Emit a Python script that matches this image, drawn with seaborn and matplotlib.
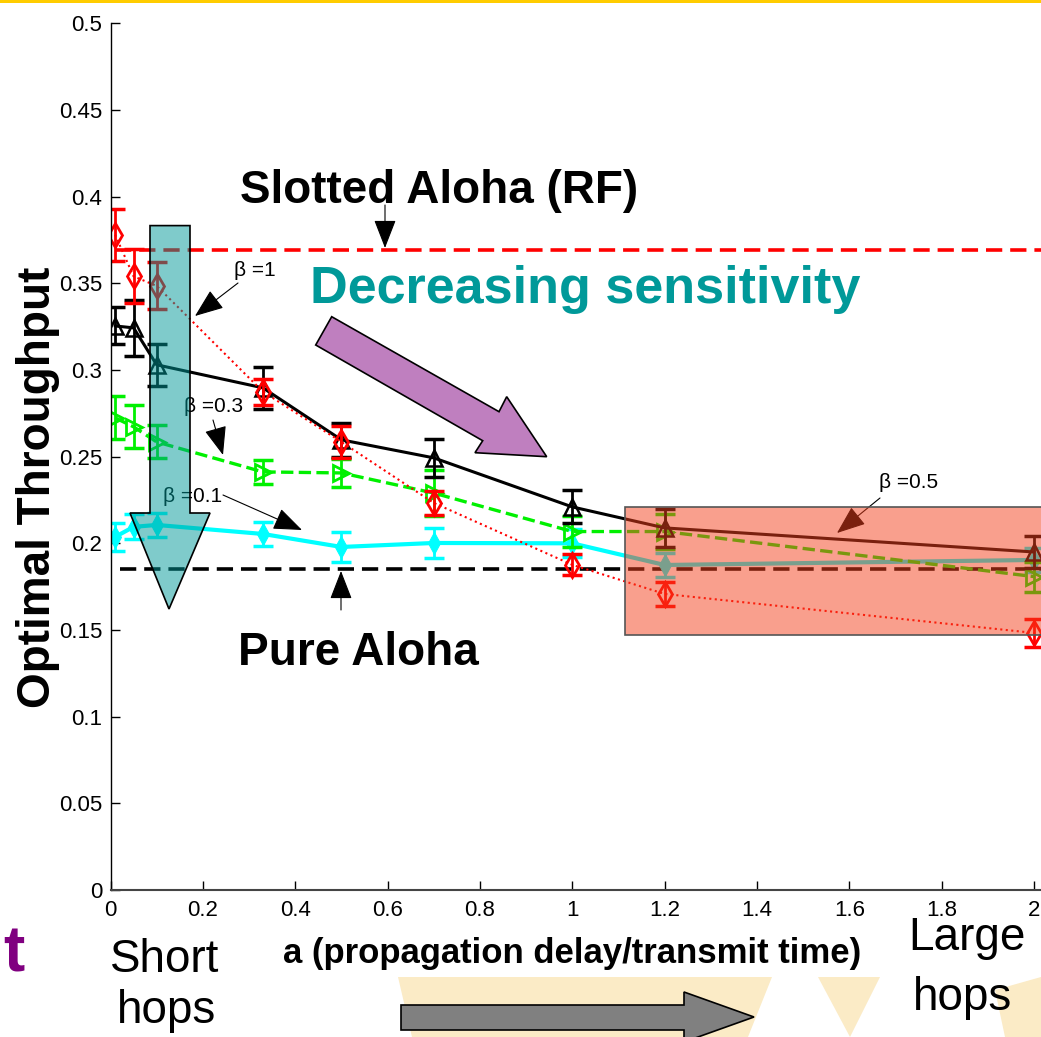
import matplotlib
matplotlib.use('Agg')
import matplotlib.pyplot as plt
from matplotlib.patches import Polygon, Rectangle
import seaborn as sns

# data
a_vals = [0.01, 0.05, 0.1, 0.33, 0.5, 0.7, 1.0, 1.2, 2.0]

thr_b1 = [0.378, 0.354, 0.3485, 0.2875, 0.2585, 0.2233, 0.1876, 0.1708, 0.1483]
err_b1 = [0.015, 0.0156, 0.0136, 0.0075, 0.009, 0.007, 0.006, 0.007, 0.008]

thr_b05 = [0.3254, 0.3243, 0.303, 0.2897, 0.2597, 0.2493, 0.221, 0.2089, 0.195]
err_b05 = [0.0107, 0.016, 0.012, 0.012, 0.010, 0.011, 0.0095, 0.011, 0.0095]

thr_b03 = [0.2724, 0.2672, 0.2585, 0.2412, 0.2406, 0.229, 0.2068, 0.2068, 0.1808]
err_b03 = [0.0124, 0.0124, 0.0095, 0.007, 0.008, 0.0135, 0.009, 0.010, 0.0087]

thr_b01 = [0.2037, 0.2095, 0.2106, 0.2054, 0.1979, 0.2002, 0.2, 0.1875, 0.1904]
err_b01 = [0.008, 0.0072, 0.007, 0.007, 0.0087, 0.0084, 0.008, 0.007, 0.007]

slotted_aloha = 0.369
pure_aloha = 0.185

x_ticks = [0, 0.2, 0.4, 0.6, 0.8, 1.0, 1.2, 1.4, 1.6, 1.8, 2.0]
x_tick_labels = ['0', '0.2', '0.4', '0.6', '0.8', '1', '1.2', '1.4', '1.6', '1.8', '2']
y_ticks = [0, 0.05, 0.1, 0.15, 0.2, 0.25, 0.3, 0.35, 0.4, 0.45, 0.5]
y_tick_labels = ['0', '0.05', '0.1', '0.15', '0.2', '0.25', '0.3', '0.35', '0.4', '0.45', '0.5']

sns.set_style('ticks')
plt.rcParams['font.family'] = ['Liberation Sans Narrow', 'DejaVu Sans Condensed', 'Liberation Sans', 'DejaVu Sans']
plt.rcParams['text.color'] = 'black'
plt.rcParams['axes.labelcolor'] = 'black'

W, H = 1041, 1037
fig = plt.figure(figsize=(W / 100, H / 100), dpi=100)


def fp(x, y):
    # pixel position on the slide -> figure fraction
    return (x / W, 1 - y / H)


ax_l, ax_r, ax_b, ax_t = 110.5, 1041, 890, 23.3
ax = fig.add_axes([ax_l / W, 1 - ax_b / H, (ax_r - ax_l) / W, (ax_b - ax_t) / H])
ax.set_xlim(0, 2.015)
ax.set_ylim(0, 0.5)

# reference lines
ax.hlines(slotted_aloha, 0.01, 2.015, colors='#FF0000', linestyles=(0, (4.5, 2.2)), lw=2.6, zorder=1.5)
ax.hlines(pure_aloha, 0.02, 2.015, colors='black', linestyles=(0, (4.5, 2.2)), lw=2.6, zorder=1.5)

# cyan beta=0.1
sns.lineplot(x=a_vals, y=thr_b01, ax=ax, color='#00FFFF', lw=3, marker='d', markersize=11,
             markerfacecolor='#00FFFF', markeredgecolor='#00FFFF', errorbar=None, zorder=2)
ax.errorbar(a_vals, thr_b01, yerr=err_b01, fmt='none', ecolor='#00FFFF', elinewidth=2,
            capsize=7, capthick=2.5, zorder=2)
# green beta=0.3
sns.lineplot(x=a_vals, y=thr_b03, ax=ax, color='#00F000', lw=2.4, linestyle='--', marker='>',
             markersize=11, markerfacecolor='none', markeredgecolor='#00F000', markeredgewidth=2,
             errorbar=None, zorder=2.1)
ax.errorbar(a_vals, thr_b03, yerr=err_b03, fmt='none', ecolor='#00F000', elinewidth=2,
            capsize=7, capthick=2.5, zorder=2.1)
# black beta=0.5
sns.lineplot(x=a_vals, y=thr_b05, ax=ax, color='black', lw=2.2, marker='^', markersize=11,
             markerfacecolor='none', markeredgecolor='black', markeredgewidth=1.8,
             errorbar=None, zorder=2.2)
ax.errorbar(a_vals, thr_b05, yerr=err_b05, fmt='none', ecolor='black', elinewidth=2,
            capsize=7, capthick=2.5, zorder=2.2)
# red beta=1
sns.lineplot(x=a_vals, y=thr_b1, ax=ax, color='#FF0000', lw=1.5, linestyle=':', marker='d',
             markersize=12, markerfacecolor='none', markeredgecolor='#FF0000', markeredgewidth=2,
             errorbar=None, zorder=2.3)
ax.errorbar(a_vals, thr_b1, yerr=err_b1, fmt='none', ecolor='#FF0000', elinewidth=2,
            capsize=7, capthick=2.5, zorder=2.3)

ax.set_xticks(x_ticks)
ax.set_xticklabels(x_tick_labels)
ax.set_yticks(y_ticks)
ax.set_yticklabels(y_tick_labels)
ax.tick_params(direction='in', length=6.5, width=1, labelsize=16, colors='black')
ax.tick_params(axis='x', pad=7)
ax.tick_params(axis='y', pad=6)
for s in ['top', 'right']:
    ax.spines[s].set_visible(False)
ax.spines['left'].set_color('black')
ax.spines['left'].set_linewidth(1)
ax.spines['bottom'].set_color('#444444')
ax.spines['bottom'].set_linewidth(1.5)

ax.set_xlabel('a (propagation delay/transmit time)', fontsize=25, fontweight='bold')
ax.xaxis.set_label_coords((572 - ax_l) / (ax_r - ax_l), -(937 - ax_b) / (ax_b - ax_t))
ax.set_ylabel('Optimal Throughput', fontsize=33, fontweight='bold',
              family=['Liberation Sans', 'DejaVu Sans'])
ax.yaxis.set_label_coords((60 - ax_l) / (ax_r - ax_l), (ax_b - 487) / (ax_b - ax_t))

# beta labels with small arrows
beta_font = dict(fontsize=15, family=['Liberation Sans', 'DejaVu Sans'], ha='center', va='center',
                 xycoords='figure fraction', zorder=3)
ax.annotate('\u03b2 =1', xy=fp(255, 271), **beta_font)
ax.annotate('\u03b2 =0.3', xy=fp(214, 406), **beta_font)
ax.annotate('\u03b2 =0.1', xy=fp(193, 497), **beta_font)
ax.annotate('\u03b2 =0.5', xy=fp(909, 483), **beta_font)

arrow_kw = dict(arrowstyle='-|>,head_length=0.9,head_width=0.35', color='black', lw=0.8,
                shrinkA=0, shrinkB=0)
small_arrows = [((238, 283), (195, 316)), ((213, 420), (223, 455)), ((223, 495), (302, 530)),
                ((880, 498), (837, 533)), ((385, 205), (385, 248)), ((341, 610), (341, 571))]
for start, tip in small_arrows:
    ax.annotate('', xy=fp(*tip), xytext=fp(*start), xycoords='figure fraction',
                textcoords='figure fraction', arrowprops=dict(mutation_scale=20, **arrow_kw),
                annotation_clip=False, zorder=3)

# slide decorations
fig.add_artist(Rectangle(fp(0, 2.5), 1, 2.5 / H, transform=fig.transFigure,
                         facecolor='#FFCC00', edgecolor='none', zorder=1))
beige = [[(398, 977), (772, 977), (748, 1037), (412, 1037)],
         [(818, 977), (880, 977), (850, 1037)],
         [(995, 990), (1041, 977), (1041, 1037), (1005, 1037)]]
for pts in beige:
    fig.add_artist(Polygon([fp(*p) for p in pts], closed=True, transform=fig.transFigure,
                           facecolor='#FBEBC6', edgecolor='none', zorder=0.5))

teal_arrow = [(150, 225.6), (190, 225.6), (190, 513), (210, 513), (169, 609), (130, 513), (150, 513)]
fig.add_artist(Polygon([fp(*p) for p in teal_arrow], closed=True, transform=fig.transFigure,
                       facecolor=(0, 0.6, 0.6, 0.5), edgecolor='black', lw=1.2, zorder=2))

fig.add_artist(Rectangle(fp(625, 635), (1045 - 625) / W, (635 - 506.7) / H,
                         transform=fig.transFigure, facecolor=(0.957, 0.25, 0.11, 0.5),
                         edgecolor='#555555', lw=1.2, zorder=2))

purple_arrow = [(331.7, 316.7), (499, 411.7), (506.7, 396.7), (546.7, 456.7), (475, 452.7),
                (482.7, 440.7), (315.7, 345)]
fig.add_artist(Polygon([fp(*p) for p in purple_arrow], closed=True, transform=fig.transFigure,
                       facecolor='#BF7FBF', edgecolor='black', lw=1.2, zorder=2.5))

gray_arrow = [(401, 1005), (684, 1005), (684, 992), (754, 1017), (684, 1042), (684, 1030), (401, 1030)]
fig.add_artist(Polygon([fp(*p) for p in gray_arrow], closed=True, transform=fig.transFigure,
                       facecolor='#808080', edgecolor='black', lw=1.2, zorder=2.5))

bold_font = ['Liberation Sans', 'DejaVu Sans']
fig.text(*fp(439, 203), 'Slotted Aloha (RF)', fontsize=33, fontweight='bold', family=bold_font,
         color='black', ha='center', va='baseline', zorder=4)
fig.text(*fp(585, 303), 'Decreasing sensitivity', fontsize=37.5, fontweight='bold', family=bold_font,
         color='#009999', ha='center', va='baseline', zorder=4)
fig.text(*fp(358, 665), 'Pure Aloha', fontsize=33, fontweight='bold', family=bold_font,
         color='black', ha='center', va='baseline', zorder=4)
fig.text(*fp(165, 972), 'Short', fontsize=33, family=bold_font, color='black', ha='center',
         va='baseline', zorder=4)
fig.text(*fp(167, 1023), 'hops', fontsize=33, family=bold_font, color='black', ha='center',
         va='baseline', zorder=4)
fig.text(*fp(967, 950), 'Large', fontsize=33, family=bold_font, color='black', ha='center',
         va='baseline', zorder=4)
fig.text(*fp(962, 1010), 'hops', fontsize=33, family=bold_font, color='black', ha='center',
         va='baseline', zorder=4)
fig.text(*fp(3, 972), 't', fontsize=46, fontweight='bold', family=bold_font, color='#800080',
         ha='left', va='baseline', zorder=4)

fig.savefig('out.png', dpi=100)
